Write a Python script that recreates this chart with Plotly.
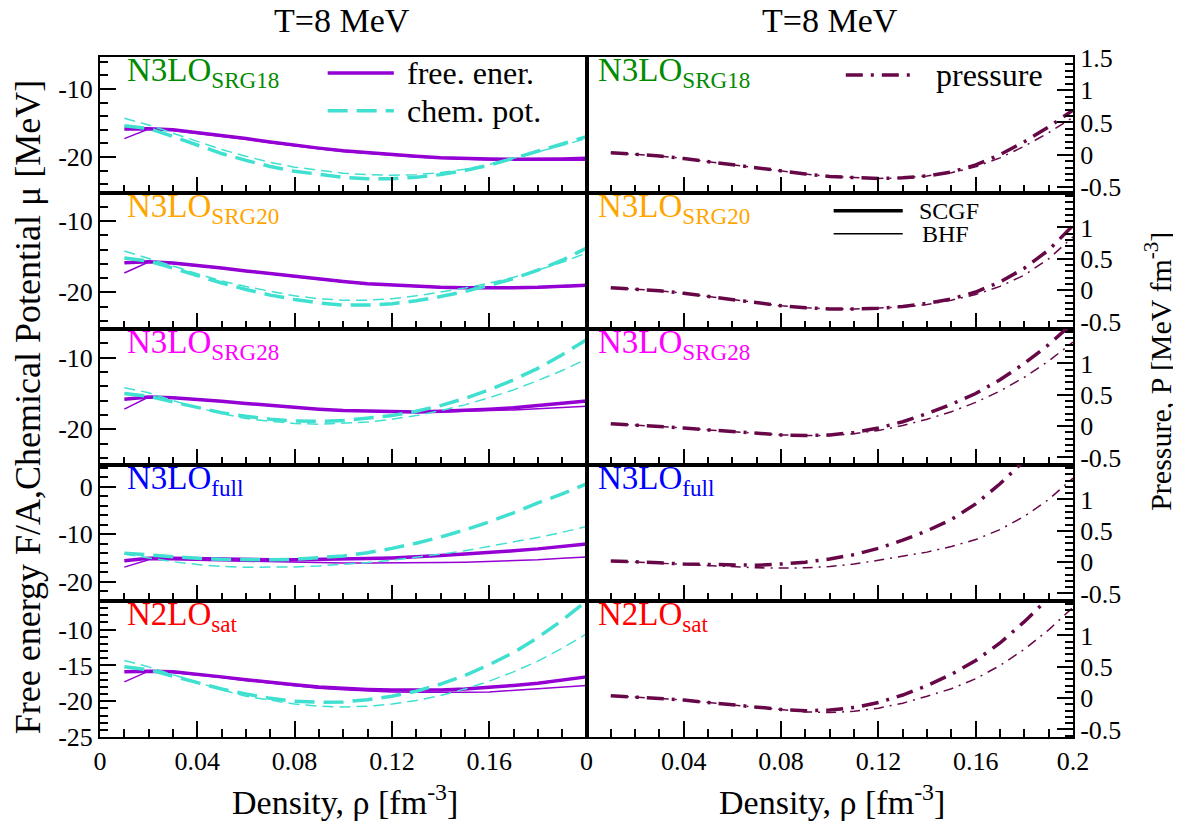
import plotly.graph_objects as go
from plotly.subplots import make_subplots

# ---------------- data ----------------
rho = [0.01, 0.02, 0.03, 0.04, 0.05, 0.06, 0.07, 0.08, 0.09, 0.10,
       0.11, 0.12, 0.13, 0.14, 0.15, 0.16, 0.17, 0.18, 0.19, 0.20]

model_names = ["N3LO<sub>SRG18</sub>", "N3LO<sub>SRG20</sub>", "N3LO<sub>SRG28</sub>",
               "N3LO<sub>full</sub>", "N2LO<sub>sat</sub>"]
model_colors = ["#008b00", "#ffa500", "#ff00ff", "#0000ff", "#ff0000"]

# N3LO SRG18
f_scgf_srg18 = [-15.9, -15.85, -16.0, -16.4, -16.8, -17.3, -17.8, -18.3, -18.7, -19.1, -19.4, -19.7, -19.9, -20.1, -20.25, -20.3, -20.35, -20.35, -20.3, -20.2]
f_bhf_srg18 = [-17.3, -15.9, -16.1, -16.5, -16.9, -17.4, -17.9, -18.4, -18.8, -19.2, -19.5, -19.8, -20.0, -20.2, -20.35, -20.45, -20.5, -20.5, -20.5, -20.5]
mu_scgf_srg18 = [-15.4, -15.8, -17.0, -18.3, -19.5, -20.5, -21.4, -22.1, -22.6, -23.0, -23.2, -23.2, -23.0, -22.6, -22.0, -21.2, -20.2, -19.2, -18.1, -17.0]
mu_bhf_srg18 = [-14.3, -15.3, -16.5, -17.7, -18.9, -19.9, -20.8, -21.5, -22.0, -22.4, -22.6, -22.7, -22.6, -22.3, -21.8, -21.1, -20.2, -19.3, -18.3, -17.3]
p_scgf_srg18 = [0.03, 0.01, -0.02, -0.06, -0.11, -0.16, -0.21, -0.26, -0.30, -0.34, -0.36, -0.37, -0.36, -0.33, -0.27, -0.16, 0.0, 0.2, 0.43, 0.69]
p_bhf_srg18 = [0.03, 0.01, -0.02, -0.06, -0.11, -0.16, -0.21, -0.26, -0.30, -0.34, -0.36, -0.37, -0.36, -0.33, -0.28, -0.19, -0.05, 0.13, 0.34, 0.58]

# N3LO SRG20
f_scgf_srg20 = [-15.85, -15.7, -15.9, -16.2, -16.6, -17.0, -17.4, -17.8, -18.2, -18.5, -18.8, -19.0, -19.2, -19.3, -19.35, -19.4, -19.35, -19.3, -19.15, -19.0]
f_bhf_srg20 = [-17.3, -15.75, -15.95, -16.25, -16.65, -17.05, -17.45, -17.85, -18.25, -18.55, -18.85, -19.05, -19.25, -19.35, -19.4, -19.45, -19.4, -19.35, -19.25, -19.1]
mu_scgf_srg20 = [-15.2, -15.6, -16.6, -17.7, -18.7, -19.6, -20.4, -21.0, -21.5, -21.8, -21.8, -21.6, -21.2, -20.6, -19.9, -19.0, -18.1, -16.9, -15.5, -13.8]
mu_bhf_srg20 = [-14.2, -15.2, -16.3, -17.4, -18.4, -19.2, -19.9, -20.5, -20.9, -21.1, -21.1, -20.9, -20.5, -20.0, -19.4, -18.7, -17.9, -16.9, -15.8, -14.5]
p_scgf_srg20 = [0.04, 0.02, -0.01, -0.05, -0.10, -0.15, -0.20, -0.25, -0.28, -0.30, -0.30, -0.29, -0.26, -0.21, -0.14, -0.03, 0.13, 0.35, 0.64, 1.03]
p_bhf_srg20 = [0.04, 0.02, -0.01, -0.05, -0.10, -0.15, -0.20, -0.25, -0.28, -0.30, -0.30, -0.29, -0.27, -0.23, -0.16, -0.07, 0.06, 0.24, 0.50, 0.85]

# N3LO SRG28
f_scgf_srg28 = [-15.8, -15.5, -15.6, -15.8, -16.1, -16.4, -16.7, -17.0, -17.2, -17.4, -17.5, -17.6, -17.6, -17.5, -17.4, -17.2, -17.0, -16.7, -16.4, -16.05]
f_bhf_srg28 = [-17.2, -15.5, -15.6, -15.8, -16.1, -16.4, -16.7, -17.0, -17.2, -17.4, -17.5, -17.6, -17.65, -17.6, -17.55, -17.4, -17.3, -17.1, -16.95, -16.8]
mu_scgf_srg28 = [-15.0, -15.4, -16.2, -17.0, -17.7, -18.2, -18.6, -18.85, -18.9, -18.8, -18.5, -18.1, -17.5, -16.7, -15.7, -14.5, -13.1, -11.5, -9.6, -7.5]
mu_bhf_srg28 = [-14.2, -14.9, -16.0, -17.0, -17.8, -18.5, -18.9, -19.2, -19.3, -19.2, -19.0, -18.6, -18.1, -17.4, -16.6, -15.6, -14.5, -13.2, -11.8, -10.2]
p_scgf_srg28 = [0.04, 0.02, 0.0, -0.03, -0.06, -0.09, -0.12, -0.14, -0.15, -0.14, -0.10, -0.03, 0.07, 0.20, 0.35, 0.52, 0.74, 1.0, 1.3, 1.65]
p_bhf_srg28 = [0.04, 0.02, 0.0, -0.03, -0.06, -0.09, -0.12, -0.14, -0.15, -0.15, -0.12, -0.07, 0.01, 0.11, 0.23, 0.38, 0.56, 0.78, 1.04, 1.34]

# N3LO full
f_scgf_full = [-15.6, -15.1, -15.1, -15.2, -15.3, -15.35, -15.4, -15.4, -15.35, -15.3, -15.15, -15.0, -14.8, -14.5, -14.2, -13.9, -13.5, -13.1, -12.6, -12.05]
f_bhf_full = [-16.95, -15.4, -15.4, -15.5, -15.6, -15.75, -15.9, -16.0, -16.05, -16.1, -16.1, -16.1, -16.05, -16.0, -15.9, -15.75, -15.6, -15.4, -15.1, -14.8]
mu_scgf_full = [-14.0, -14.4, -14.8, -15.1, -15.3, -15.4, -15.4, -15.3, -15.0, -14.6, -13.9, -13.0, -11.9, -10.6, -9.1, -7.4, -5.5, -3.4, -1.5, 0.6]
mu_bhf_full = [-14.2, -15.0, -15.8, -16.4, -16.8, -17.0, -17.0, -16.9, -16.7, -16.4, -16.0, -15.5, -14.9, -14.2, -13.5, -12.6, -11.7, -10.7, -9.6, -8.4]
p_scgf_full = [0.02, 0.01, -0.01, -0.03, -0.04, -0.05, -0.05, -0.03, 0.0, 0.05, 0.12, 0.22, 0.35, 0.50, 0.68, 0.93, 1.25, 1.62, 2.0, 2.4]
p_bhf_full = [0.02, 0.0, -0.02, -0.04, -0.06, -0.08, -0.09, -0.095, -0.09, -0.07, -0.03, 0.03, 0.09, 0.16, 0.25, 0.36, 0.52, 0.73, 1.0, 1.34]

# N2LO sat
f_scgf_sat = [-15.9, -15.8, -15.9, -16.2, -16.6, -17.0, -17.4, -17.7, -18.0, -18.2, -18.35, -18.45, -18.5, -18.45, -18.3, -18.1, -17.8, -17.5, -17.1, -16.6]
f_bhf_sat = [-17.3, -15.8, -16.0, -16.3, -16.7, -17.1, -17.5, -17.9, -18.2, -18.4, -18.6, -18.7, -18.75, -18.8, -18.75, -18.7, -18.5, -18.3, -18.1, -17.8]
mu_scgf_sat = [-15.2, -15.6, -16.5, -17.4, -18.3, -19.0, -19.6, -20.0, -20.15, -20.1, -19.8, -19.3, -18.6, -17.6, -16.4, -14.9, -13.2, -11.1, -8.7, -6.0]
mu_bhf_sat = [-14.3, -15.2, -16.3, -17.4, -18.4, -19.3, -19.9, -20.4, -20.7, -20.8, -20.7, -20.4, -19.9, -19.2, -18.3, -17.2, -15.9, -14.4, -12.6, -10.6]
p_scgf_sat = [0.04, 0.02, 0.0, -0.03, -0.07, -0.11, -0.15, -0.18, -0.20, -0.19, -0.15, -0.07, 0.05, 0.20, 0.38, 0.60, 0.88, 1.22, 1.6, 2.0]
p_bhf_sat = [0.04, 0.02, 0.0, -0.03, -0.07, -0.11, -0.15, -0.19, -0.22, -0.23, -0.21, -0.16, -0.08, 0.03, 0.15, 0.31, 0.52, 0.78, 1.09, 1.45]

free_scgf = [f_scgf_srg18, f_scgf_srg20, f_scgf_srg28, f_scgf_full, f_scgf_sat]
free_bhf = [f_bhf_srg18, f_bhf_srg20, f_bhf_srg28, f_bhf_full, f_bhf_sat]
mu_scgf = [mu_scgf_srg18, mu_scgf_srg20, mu_scgf_srg28, mu_scgf_full, mu_scgf_sat]
mu_bhf = [mu_bhf_srg18, mu_bhf_srg20, mu_bhf_srg28, mu_bhf_full, mu_bhf_sat]
p_scgf = [p_scgf_srg18, p_scgf_srg20, p_scgf_srg28, p_scgf_full, p_scgf_sat]
p_bhf = [p_bhf_srg18, p_bhf_srg20, p_bhf_srg28, p_bhf_full, p_bhf_sat]

# axis ranges / ticks
left_ranges = [[-25.3, -5.3], [-25.15, -6.07], [-25.0, -6.0], [-24.1, 4.6], [-25.0, -6.0]]
left_tickvals = [[-20, -10], [-20, -10], [-20, -10], [-20, -10, 0], [-25, -20, -15, -10]]
left_minor_dtick = [2, 2, 2, 2, 1]
right_ranges = [[-0.595, 1.515], [-0.62, 1.55], [-0.62, 1.55], [-0.62, 1.55], [-0.62, 1.55]]
right_tickvals = [[-0.5, 0, 0.5, 1, 1.5], [-0.5, 0, 0.5, 1], [-0.5, 0, 0.5, 1], [-0.5, 0, 0.5, 1], [-0.5, 0, 0.5, 1]]
x_tickvals = [0, 0.04, 0.08, 0.12, 0.16, 0.2]
x_ticktext_left = ["0", "0.04", "0.08", "0.12", "0.16", ""]
x_ticktext_right = ["0", "0.04", "0.08", "0.12", "0.16", "0.2"]

VIOLET = "#9400d3"
TURQ = "#40e0d0"
MAROON = "#670748"
FONT = "Liberation Serif"

fig = make_subplots(rows=5, cols=2, horizontal_spacing=0, vertical_spacing=0)

for i in range(5):
    r = i + 1
    fig.add_trace(go.Scatter(x=rho, y=free_bhf[i], mode="lines",
                             line=dict(color=VIOLET, width=1.5)), row=r, col=1)
    fig.add_trace(go.Scatter(x=rho, y=free_scgf[i], mode="lines",
                             line=dict(color=VIOLET, width=3.5)), row=r, col=1)
    fig.add_trace(go.Scatter(x=rho, y=mu_bhf[i], mode="lines",
                             line=dict(color=TURQ, width=1.5, dash="11px,6px")), row=r, col=1)
    fig.add_trace(go.Scatter(x=rho, y=mu_scgf[i], mode="lines",
                             line=dict(color=TURQ, width=3.5, dash="20px,9px")), row=r, col=1)
    fig.add_trace(go.Scatter(x=rho, y=p_bhf[i], mode="lines",
                             line=dict(color=MAROON, width=1.5, dash="10px,6px,2px,6px")), row=r, col=2)
    fig.add_trace(go.Scatter(x=rho, y=p_scgf[i], mode="lines",
                             line=dict(color=MAROON, width=3.5, dash="17px,8px,3px,8px")), row=r, col=2)

tickfont = dict(family=FONT, size=26, color="black")
common = dict(showline=True, linecolor="black", linewidth=2, mirror=True,
              ticks="inside", ticklen=16, tickwidth=1.5, tickcolor="black",
              showgrid=False, zeroline=False, tickfont=tickfont)

for i in range(5):
    r = i + 1
    for c in (1, 2):
        fig.update_xaxes(range=[0, 0.2], tickmode="array", tickvals=x_tickvals,
                         ticktext=x_ticktext_left if c == 1 else x_ticktext_right,
                         showticklabels=(r == 5),
                         minor=dict(ticks="inside", ticklen=8, tickwidth=1.5, tickcolor="black",
                                    dtick=0.01, tick0=0, showgrid=False),
                         row=r, col=c, **common)
    fig.update_yaxes(range=left_ranges[i], tickmode="array", tickvals=left_tickvals[i],
                     ticktext=["%g" % v for v in left_tickvals[i]],
                     minor=dict(ticks="inside", ticklen=8, tickwidth=1.5, tickcolor="black",
                                dtick=left_minor_dtick[i], tick0=0, showgrid=False),
                     side="left", row=r, col=1, **common)
    fig.update_yaxes(range=right_ranges[i], tickmode="array", tickvals=right_tickvals[i],
                     ticktext=["%g" % v for v in right_tickvals[i]],
                     minor=dict(ticks="inside", ticklen=8, tickwidth=1.5, tickcolor="black",
                                dtick=0.1, tick0=0, showgrid=False),
                     side="right", row=r, col=2, **common)

annotations = []
shapes = []

def axref(r, c):
    idx = (r - 1) * 2 + c
    s = "" if idx == 1 else str(idx)
    return "x" + s + " domain", "y" + s + " domain"

# model labels
for i in range(5):
    for c in (1, 2):
        xr, yr = axref(i + 1, c)
        annotations.append(dict(text=model_names[i], xref=xr, yref=yr,
                                x=0.051 if c == 1 else 0.02, y=1.05,
                                xanchor="left", yanchor="top", showarrow=False,
                                font=dict(family=FONT, size=33, color=model_colors[i])))

# legends (row 1 left / right, row 2 right)
def legend_item(r, c, x0, x1, y, text, color, width, dash, size, tx):
    xr, yr = axref(r, c)
    shapes.append(dict(type="line", xref=xr, yref=yr, x0=x0, x1=x1, y0=y, y1=y,
                       line=dict(color=color, width=width, dash=dash)))
    annotations.append(dict(text=text, xref=xr, yref=yr, x=tx, y=y, xanchor="left",
                            yanchor="middle", showarrow=False,
                            font=dict(family=FONT, size=size, color="black")))

legend_item(1, 1, 0.468, 0.604, 0.882, "free. ener.", VIOLET, 3.5, "solid", 32, 0.626)
legend_item(1, 1, 0.468, 0.604, 0.605, "chem. pot.", TURQ, 3.5, "20px,9px", 32, 0.626)
legend_item(1, 2, 0.533, 0.675, 0.868, "pressure", MAROON, 3.5, "17px,8px,3px,8px", 32, 0.714)
legend_item(2, 2, 0.508, 0.650, 0.870, "SCGF", "black", 3.5, "solid", 24, 0.679)
legend_item(2, 2, 0.508, 0.650, 0.700, "BHF", "black", 1.5, "solid", 24, 0.685)

# titles (paper coords: plot area is 973 x 680 px)
for xc in (242.0 / 973, 730.0 / 973):
    annotations.append(dict(text="T=8 MeV", xref="paper", yref="paper", x=xc, y=1.053,
                            xanchor="center", yanchor="middle", showarrow=False,
                            font=dict(family=FONT, size=34, color="black")))
for xc in (245.0 / 973, 732.0 / 973):
    annotations.append(dict(text="Density, \u03c1 [fm<sup>-3</sup>]", xref="paper", yref="paper",
                            x=xc, y=-0.092, xanchor="center", yanchor="middle", showarrow=False,
                            font=dict(family=FONT, size=34, color="black")))
annotations.append(dict(text="Free energy F/A,Chemical Potential \u03bc [MeV]", xref="paper",
                        yref="paper", x=-72.0 / 973, y=0.485, textangle=-90, xanchor="center",
                        yanchor="middle", showarrow=False,
                        font=dict(family=FONT, size=36, color="black")))
annotations.append(dict(text="Pressure, P [MeV fm<sup>-3</sup>]", xref="paper",
                        yref="paper", x=1058.0 / 973, y=0.537, textangle=-90, xanchor="center",
                        yanchor="middle", showarrow=False,
                        font=dict(family=FONT, size=30, color="black")))

# page body has an 8px margin: figure sized to fit the 1181x825 window
fig.update_layout(width=1173, height=817, showlegend=False,
                  margin=dict(l=92, r=108, t=49, b=88),
                  paper_bgcolor="white", plot_bgcolor="white",
                  annotations=annotations, shapes=shapes,
                  font=dict(family=FONT, color="black"))

fig.write_html("out.html")
